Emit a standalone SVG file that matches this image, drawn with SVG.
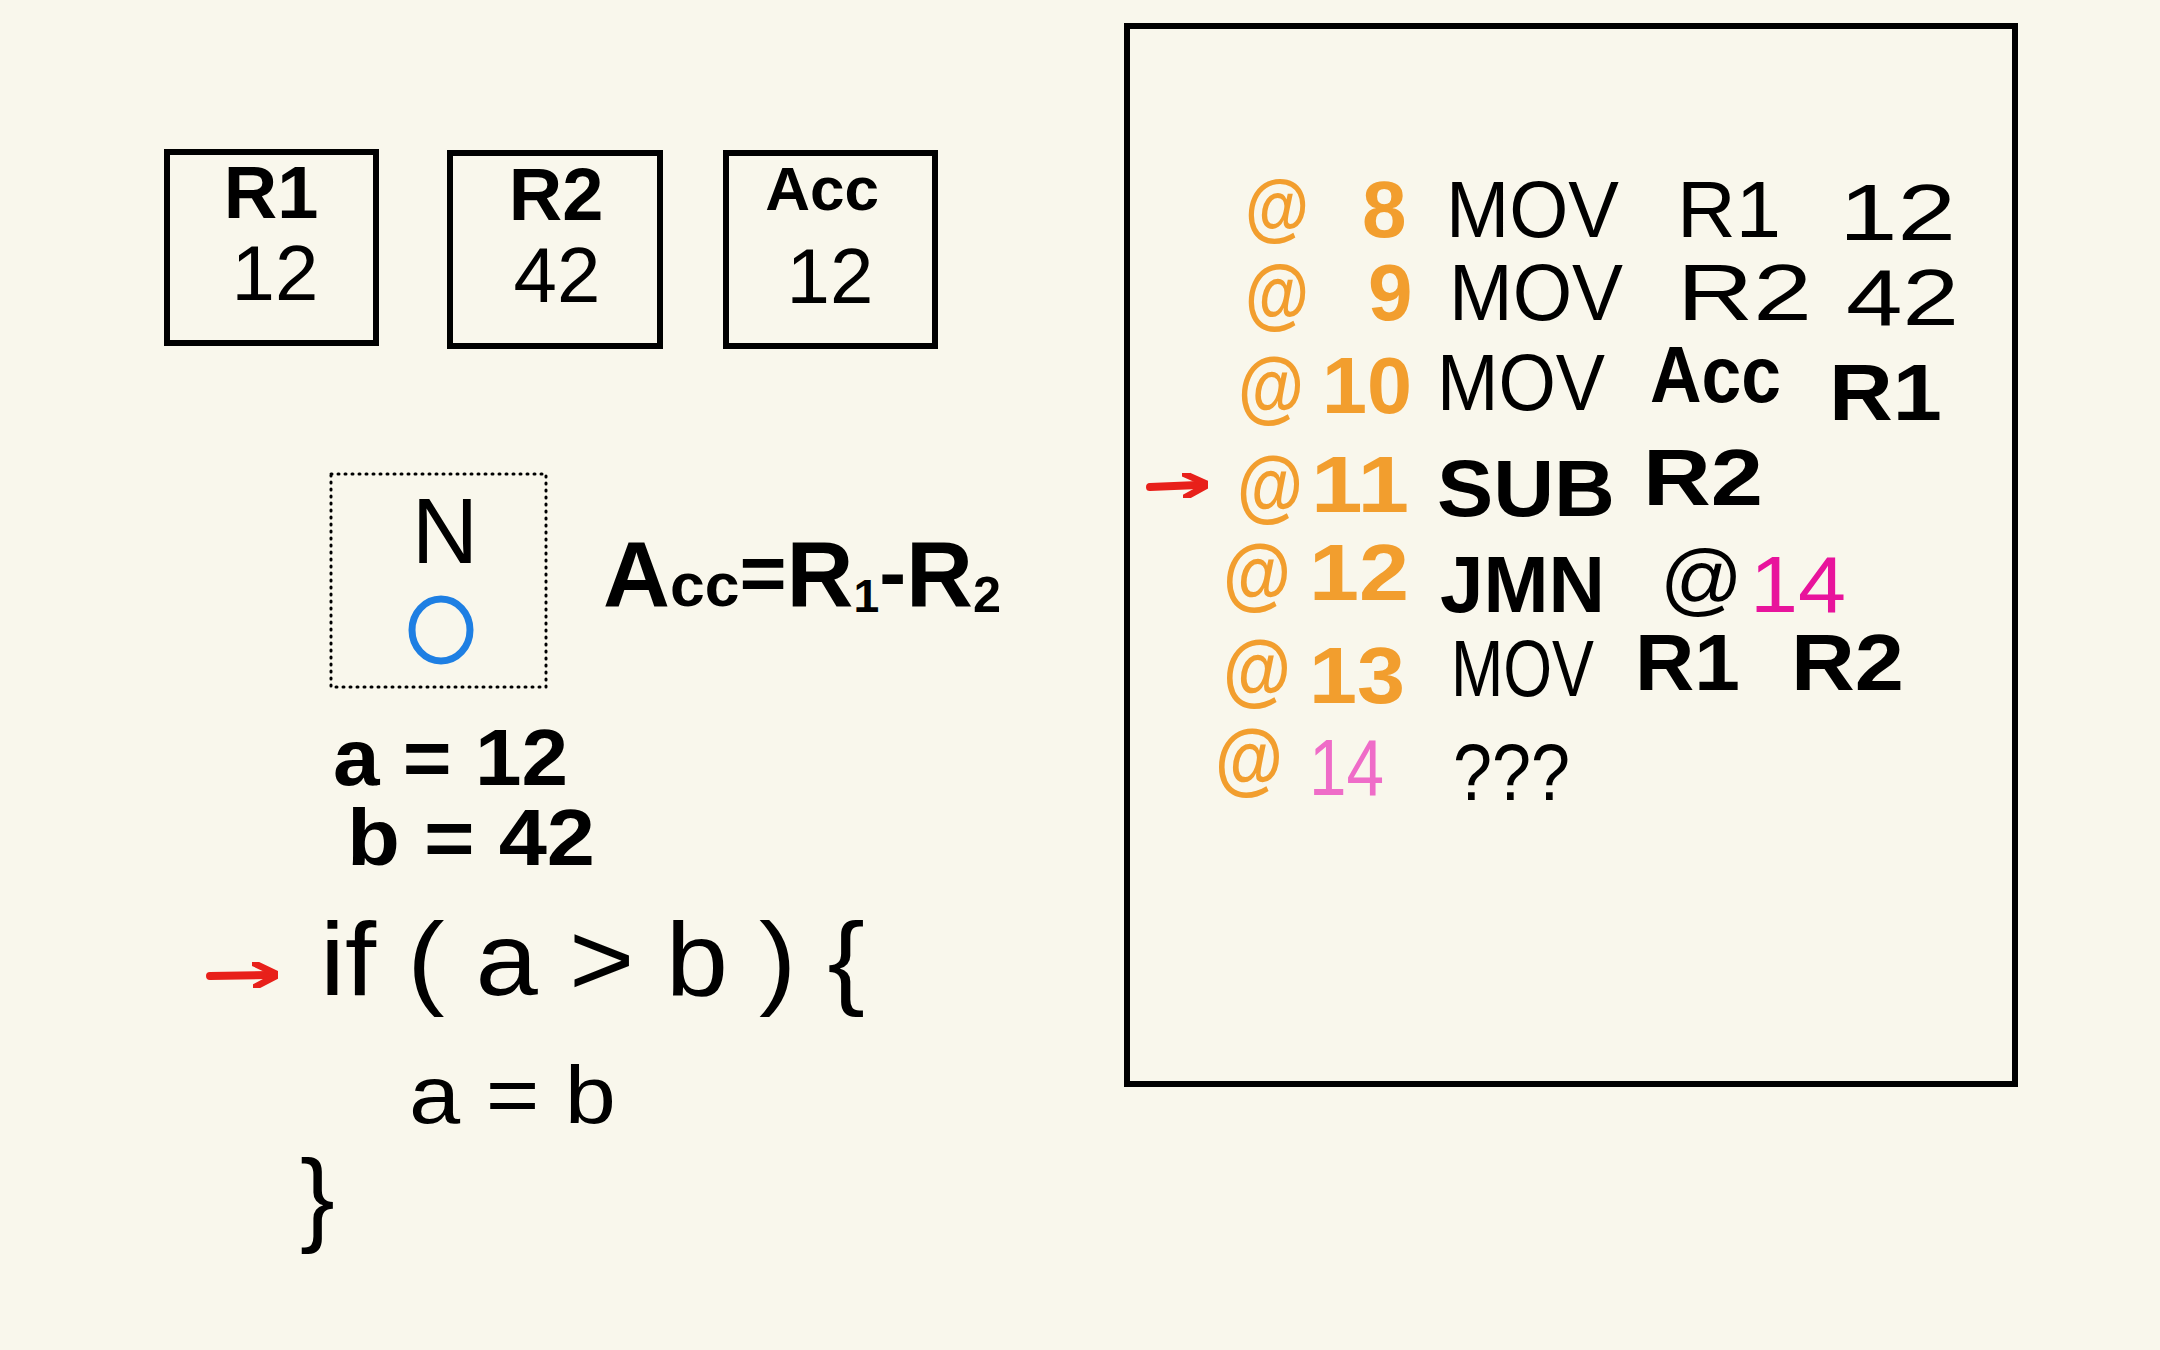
<svg xmlns="http://www.w3.org/2000/svg" width="2160" height="1350" viewBox="0 0 2160 1350">
<defs>
<marker id="ah" viewBox="0 0 10 10" refX="6" refY="5" markerWidth="3.2" markerHeight="3.2" orient="auto" markerUnits="strokeWidth">
<path d="M0,0 L10,5 L0,10" fill="none" stroke="#E8201A" stroke-width="2.6" stroke-linecap="round" stroke-linejoin="round"/>
</marker>
<style>
.box{fill:none;stroke:#000;stroke-width:6}
.t{font-family:"Liberation Sans",Arial,sans-serif;fill:#000}
.b{font-weight:bold}
.or{fill:#F29E2E;font-weight:bold;font-family:"Liberation Sans",Arial,sans-serif}
.mg{fill:#E8149C;font-family:"Liberation Sans",Arial,sans-serif}
.pk{fill:#EF6CC8;font-family:"Liberation Sans",Arial,sans-serif}
.c{font-size:80px}
.at{font-size:80px}
.arr{stroke:#E8201A;stroke-width:8;stroke-linecap:round;fill:none}
</style>
</defs>
<rect width="2160" height="1350" fill="#F9F7EC"/>

<g id="reg-R1">
<rect class="box" x="167" y="152" width="209" height="191"/>
<text class="t b" x="271" y="218" font-size="74" text-anchor="middle">R1</text>
<text class="t" x="275" y="300" font-size="78" text-anchor="middle">12</text>
</g>
<g id="reg-R2">
<rect class="box" x="450" y="153" width="210" height="193"/>
<text class="t b" x="556" y="220" font-size="74" text-anchor="middle">R2</text>
<text class="t" x="557" y="302" font-size="78" text-anchor="middle">42</text>
</g>
<g id="reg-Acc">
<rect class="box" x="726" y="153" width="209" height="193"/>
<text class="t b" x="822" y="210" font-size="62" text-anchor="middle">Acc</text>
<text class="t" x="830" y="303" font-size="78" text-anchor="middle">12</text>
</g>

<g id="flags">
<rect x="331" y="474" width="215" height="213" fill="none" stroke="#000" stroke-width="3" stroke-dasharray="1 6" stroke-linecap="round"/>
<text class="t" x="445" y="563" font-size="92" text-anchor="middle">N</text>
<ellipse cx="441" cy="630" rx="29" ry="31" fill="none" stroke="#1E7FE3" stroke-width="7"/>
</g>

<g id="formula">
<text class="t b" x="603" y="606" font-size="92" textLength="398" lengthAdjust="spacingAndGlyphs">A<tspan font-size="62">cc</tspan><tspan font-size="80" dy="-6">=</tspan><tspan dy="6">R</tspan><tspan font-size="46" dy="6">1</tspan><tspan font-size="80" dy="-12">-</tspan><tspan dy="6">R</tspan><tspan font-size="50" dy="6">2</tspan></text>
</g>

<g id="source-code">
<text class="t b" x="333" y="785" font-size="80" textLength="235" lengthAdjust="spacingAndGlyphs">a = 12</text>
<text class="t b" x="347" y="865" font-size="80" textLength="248" lengthAdjust="spacingAndGlyphs">b = 42</text>
<text class="t" x="320" y="995" font-size="104" textLength="545" lengthAdjust="spacingAndGlyphs">if ( a &gt; b ) {</text>
<text class="t" x="409" y="1123" font-size="82" textLength="207" lengthAdjust="spacingAndGlyphs">a = b</text>
<text class="t" x="300" y="1232" font-size="104">}</text>
</g>

<g id="memory">
<rect class="box" x="1127" y="26" width="888" height="1058"/>
<g id="line8">
<text class="or" x="1245" y="232" font-size="74" textLength="64" lengthAdjust="spacingAndGlyphs">@</text>
<text class="or c" x="1362" y="237">8</text>
<text class="t c" x="1446" y="237" textLength="173" lengthAdjust="spacingAndGlyphs">MOV</text>
<text class="t c" x="1677" y="237" textLength="104" lengthAdjust="spacingAndGlyphs">R1</text>
<text class="t c" x="1839" y="240" textLength="117" lengthAdjust="spacingAndGlyphs">12</text>
</g>
<g id="line9">
<text class="or" x="1245" y="320" font-size="78" textLength="64" lengthAdjust="spacingAndGlyphs">@</text>
<text class="or c" x="1368" y="320">9</text>
<text class="t c" x="1449" y="320" textLength="174" lengthAdjust="spacingAndGlyphs">MOV</text>
<text class="t c" x="1677" y="320" textLength="135" lengthAdjust="spacingAndGlyphs">R2</text>
<text class="t c" x="1846" y="325" textLength="113" lengthAdjust="spacingAndGlyphs">42</text>
</g>
<g id="line10">
<text class="or at" x="1238" y="413" textLength="66" lengthAdjust="spacingAndGlyphs">@</text>
<text class="or c" x="1322" y="413" textLength="90" lengthAdjust="spacingAndGlyphs">10</text>
<text class="t c" x="1437" y="410" textLength="168" lengthAdjust="spacingAndGlyphs">MOV</text>
<text class="t c b" x="1650" y="402" font-size="70" textLength="131" lengthAdjust="spacingAndGlyphs">Acc</text>
<text class="t c b" x="1829" y="420" textLength="113" lengthAdjust="spacingAndGlyphs">R1</text>
</g>
<g id="line11">
<text class="or at" x="1237" y="512" textLength="66" lengthAdjust="spacingAndGlyphs">@</text>
<text class="or c" x="1311" y="512" textLength="98" lengthAdjust="spacingAndGlyphs">11</text>
<text class="t c b" x="1437" y="516" textLength="178" lengthAdjust="spacingAndGlyphs">SUB</text>
<text class="t c b" x="1643" y="505" font-size="72" textLength="120" lengthAdjust="spacingAndGlyphs">R2</text>
</g>
<g id="line12">
<text class="or at" x="1223" y="600" textLength="68" lengthAdjust="spacingAndGlyphs">@</text>
<text class="or c" x="1309" y="600" textLength="100" lengthAdjust="spacingAndGlyphs" font-weight="normal">12</text>
<text class="t c b" x="1440" y="612" textLength="165" lengthAdjust="spacingAndGlyphs">JMN</text>
<text class="t c" x="1660" y="606" font-size="80" textLength="83" lengthAdjust="spacingAndGlyphs">@</text>
<text class="mg c" x="1750" y="612" textLength="96" lengthAdjust="spacingAndGlyphs">14</text>
</g>
<g id="line13">
<text class="or at" x="1223" y="696" textLength="68" lengthAdjust="spacingAndGlyphs">@</text>
<text class="or c" x="1309" y="703" textLength="96" lengthAdjust="spacingAndGlyphs" font-weight="normal">13</text>
<text class="t c" x="1451" y="696" textLength="143" lengthAdjust="spacingAndGlyphs">MOV</text>
<text class="t c b" x="1635" y="690" font-size="72" textLength="105" lengthAdjust="spacingAndGlyphs">R1</text>
<text class="t c b" x="1791" y="690" font-size="72" textLength="113" lengthAdjust="spacingAndGlyphs">R2</text>
</g>
<g id="line14">
<text class="or at" x="1215" y="785" textLength="68" lengthAdjust="spacingAndGlyphs">@</text>
<text class="pk c" x="1309" y="795" textLength="75" lengthAdjust="spacingAndGlyphs">14</text>
<text class="t c" x="1453" y="800" textLength="117" lengthAdjust="spacingAndGlyphs">???</text>
</g>
</g>

<g id="connectors">
<path class="arr" d="M1150,487 L1198,485" marker-end="url(#ah)"/>
<path class="arr" d="M210,976 L268,975" marker-end="url(#ah)"/>
</g>
</svg>
